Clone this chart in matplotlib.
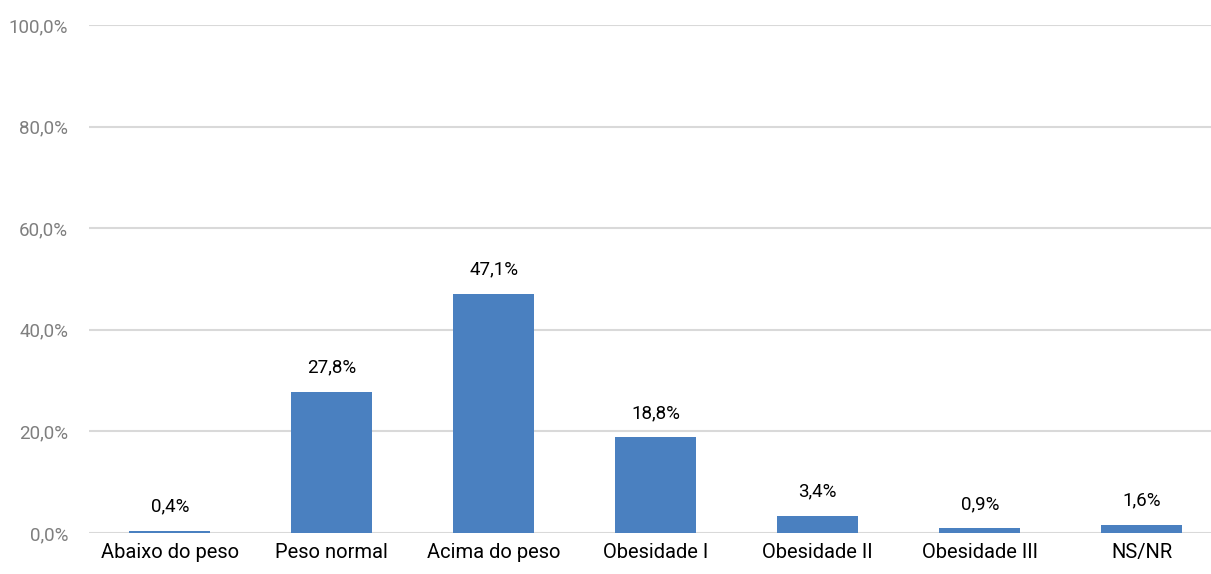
import matplotlib.pyplot as plt
from matplotlib.ticker import FuncFormatter

categorias = ["Abaixo do peso", "Peso normal", "Acima do peso", "Obesidade I",
              "Obesidade II", "Obesidade III", "NS/NR"]
valores = [0.4, 27.8, 47.1, 18.8, 3.4, 0.9, 1.6]
rotulos = ["0,4%", "27,8%", "47,1%", "18,8%", "3,4%", "0,9%", "1,6%"]

plt.rcParams['font.family'] = ['Roboto', 'DejaVu Sans']

fig = plt.figure(figsize=(12.11, 5.74), dpi=100)
ax = fig.add_axes([89 / 1211, 41 / 574, (1211 - 89) / 1211, 508 / 574])

x = range(len(categorias))
bars = ax.bar(x, valores, width=0.5, color="#4a80c0", zorder=3)

# rotulos acima das barras
for b, txt in zip(bars, rotulos):
    ax.annotate(txt, (b.get_x() + b.get_width() / 2, b.get_height()),
                xytext=(0, 11), textcoords="offset points",
                ha="center", va="bottom", fontsize=13.5, color="#000000")

ax.set_ylim(0, 100)
ax.set_xlim(-0.5, (1211 - 169.7) / 162)
ax.set_yticks(range(0, 101, 20))
ax.yaxis.set_major_formatter(FuncFormatter(lambda v, p: f"{v:.1f}%".replace(".", ",")))
ax.set_xticks(list(x))
ax.set_xticklabels(categorias, fontsize=14.5, color="#000000")
ax.tick_params(axis="y", labelsize=13.5, labelcolor="#7f7f7f", length=0, pad=15)
ax.tick_params(axis="x", length=0, pad=7)
ax.grid(axis="y", color="#d9d9d9", linewidth=1.5, zorder=0)
for s in ax.spines.values():
    s.set_visible(False)

fig.savefig("out.png", dpi=100)
